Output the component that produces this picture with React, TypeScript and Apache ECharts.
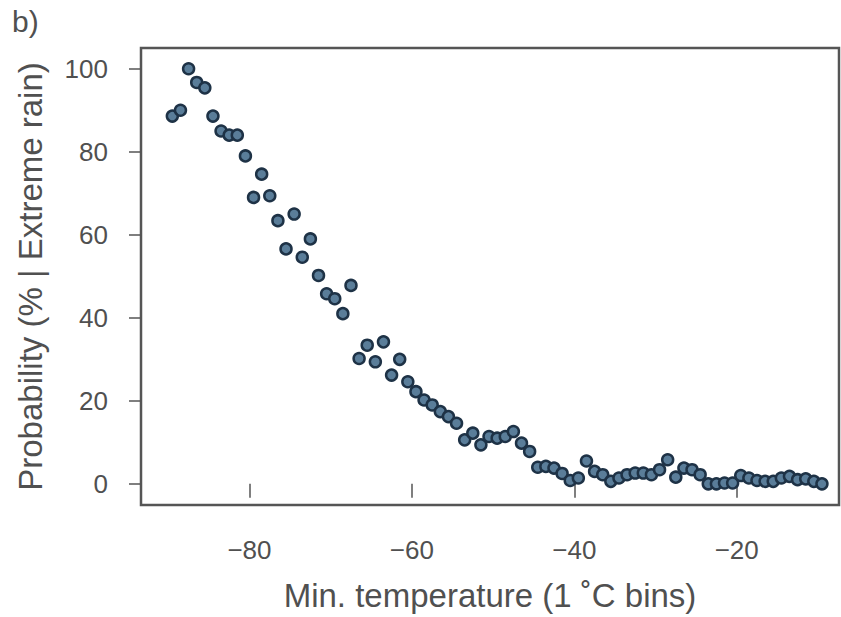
import React, { useEffect, useRef } from "react";
import * as echarts from "echarts";

const temperatures: number[] = [
  -89.5, -88.5, -87.5, -86.5, -85.5, -84.5, -83.5, -82.5, -81.5, -80.5,
  -79.5, -78.5, -77.5, -76.5, -75.5, -74.5, -73.5, -72.5, -71.5, -70.5,
  -69.5, -68.5, -67.5, -66.5, -65.5, -64.5, -63.5, -62.5, -61.5, -60.5,
  -59.5, -58.5, -57.5, -56.5, -55.5, -54.5, -53.5, -52.5, -51.5, -50.5,
  -49.5, -48.5, -47.5, -46.5, -45.5, -44.5, -43.5, -42.5, -41.5, -40.5,
  -39.5, -38.5, -37.5, -36.5, -35.5, -34.5, -33.5, -32.5, -31.5, -30.5,
  -29.5, -28.5, -27.5, -26.5, -25.5, -24.5, -23.5, -22.5, -21.5, -20.5,
  -19.5, -18.5, -17.5, -16.5, -15.5, -14.5, -13.5, -12.5, -11.5, -10.5,
  -9.5,
];

const probabilities: number[] = [
  88.6, 90.0, 100.0, 96.7, 95.4, 88.6, 85.0, 84.0, 84.0, 79.0,
  69.0, 74.6, 69.4, 63.4, 56.6, 65.0, 54.6, 59.0, 50.2, 45.8,
  44.6, 41.0, 47.8, 30.2, 33.4, 29.4, 34.2, 26.2, 30.0, 24.6,
  22.2, 20.2, 19.0, 17.4, 16.2, 14.6, 10.6, 12.2, 9.4, 11.4,
  11.0, 11.4, 12.6, 9.8, 7.8, 4.0, 4.2, 3.8, 2.5, 0.8,
  1.4, 5.5, 3.0, 2.2, 0.6, 1.4, 2.2, 2.6, 2.6, 2.2,
  3.4, 5.8, 1.6, 3.8, 3.4, 2.2, 0.0, 0.0, 0.2, 0.2,
  2.0, 1.4, 0.8, 0.6, 0.6, 1.4, 1.8, 1.0, 1.2, 0.6,
  0.0,
];

const xTicks: number[] = [-80, -60, -40, -20];
const yTicks: number[] = [0, 20, 40, 60, 80, 100];

const xTitle = "Min. temperature (1 \u02DAC bins)";
const yTitle = "Probability (% | Extreme rain)";
const panelLabel = "b)";

const FONT = "'Liberation Sans', Arial, sans-serif";
const TEXT_COLOR = "#505050";
const FRAME_COLOR = "#555555";

export default function App() {
  const ref = useRef<HTMLDivElement>(null);

  useEffect(() => {
    if (!ref.current) return;
    const chart = echarts.init(ref.current, undefined, { renderer: "svg" });
    const points = temperatures.map((t, i) => [t, probabilities[i]]);
    chart.setOption({
      animation: false,
      backgroundColor: "#ffffff",
      textStyle: { fontFamily: FONT },
      grid: {
        left: 141,
        top: 48,
        right: 2,
        bottom: 110,
        show: true,
        borderColor: FRAME_COLOR,
        borderWidth: 2.5,
        backgroundColor: "transparent",
      },
      xAxis: {
        type: "value",
        min: -93.36,
        max: -7.4,
        axisLine: { show: false },
        splitLine: { show: false },
        axisTick: {
          show: true,
          length: 14,
          customValues: xTicks,
          lineStyle: { color: FRAME_COLOR, width: 1.5 },
        },
        axisLabel: {
          customValues: xTicks,
          margin: 32,
          fontSize: 26,
          color: TEXT_COLOR,
          fontFamily: FONT,
          formatter: (v: number) => String(v).replace("-", "\u2212"),
        },
        name: xTitle,
        nameLocation: "middle",
        nameGap: 74,
        nameTextStyle: { fontSize: 33, color: TEXT_COLOR, fontFamily: FONT },
      },
      yAxis: {
        type: "value",
        min: -5.1,
        max: 105,
        axisLine: { show: false },
        splitLine: { show: false },
        axisTick: {
          show: true,
          length: 12,
          customValues: yTicks,
          lineStyle: { color: FRAME_COLOR, width: 1.5 },
        },
        axisLabel: {
          customValues: yTicks,
          margin: 33,
          fontSize: 26,
          color: TEXT_COLOR,
          fontFamily: FONT,
        },
        name: yTitle,
        nameLocation: "middle",
        nameRotate: 90,
        nameGap: 94,
        nameTextStyle: { fontSize: 33, color: TEXT_COLOR, fontFamily: FONT },
      },
      graphic: [
        {
          type: "text",
          left: 12,
          top: 6,
          style: {
            text: panelLabel,
            fontSize: 30,
            fill: TEXT_COLOR,
            fontFamily: FONT,
          },
        },
      ],
      series: [
        {
          type: "scatter",
          data: points,
          symbol: "circle",
          symbolSize: 11,
          itemStyle: {
            color: "#5a7d99",
            borderColor: "#1e3246",
            borderWidth: 2.5,
            opacity: 1,
          },
        },
      ],
    });
    return () => chart.dispose();
  }, []);

  return (
    <div
      ref={ref}
      style={{ position: "fixed", left: 0, top: 0, width: 841, height: 617 }}
    />
  );
}
